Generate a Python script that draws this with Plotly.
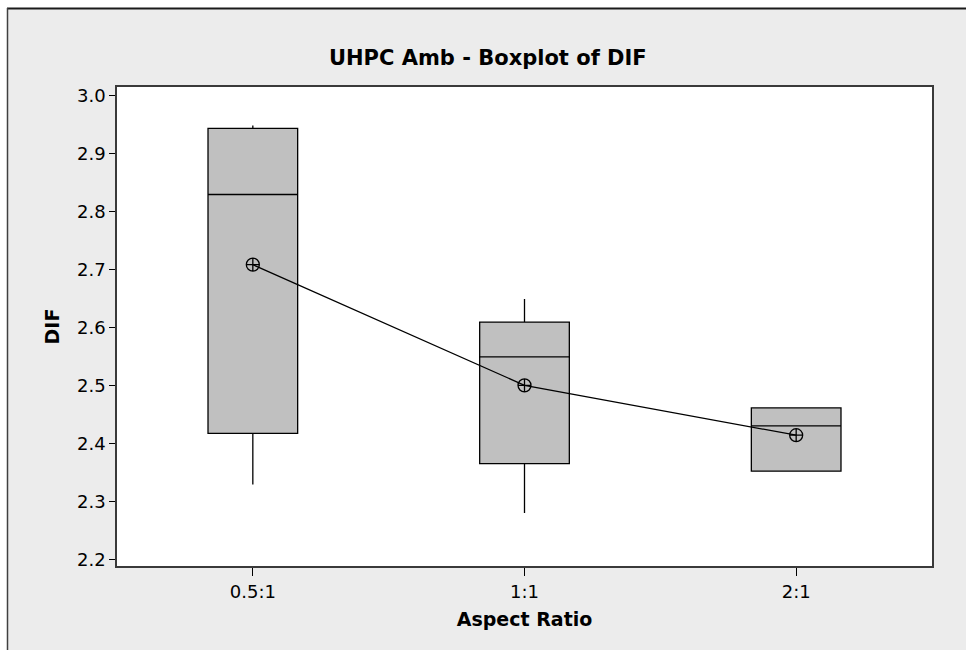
import plotly.graph_objects as go

# Aspect ratio groups and their DIF summary statistics
categories = ["0.5:1", "1:1", "2:1"]
lower_whisker = [2.329, 2.280, 2.352]
q1_values = [2.417, 2.365, 2.352]
median_values = [2.829, 2.549, 2.430]
q3_values = [2.943, 2.609, 2.461]
upper_whisker = [2.948, 2.649, 2.462]
mean_values = [2.708, 2.500, 2.414]
y_ticks = [2.2, 2.3, 2.4, 2.5, 2.6, 2.7, 2.8, 2.9, 3.0]

W, H = 966, 650
L, R, T, B = 117, 34, 87, 84
FONT = "DejaVu Sans"


def px_x(px):
    return (px - L) / (W - L - R)


def px_y(py):
    return (H - B - py) / (H - T - B)


fig = go.Figure()

fig.add_trace(go.Box(
    x=categories,
    q1=q1_values,
    median=median_values,
    q3=q3_values,
    lowerfence=lower_whisker,
    upperfence=upper_whisker,
    boxpoints=False,
    fillcolor="#C0C0C0",
    line=dict(color="#000000", width=1.3),
    width=0.33,
    whiskerwidth=0,
    showlegend=False,
    hoverinfo="skip",
))

# Connected group means
fig.add_trace(go.Scatter(
    x=categories,
    y=mean_values,
    mode="lines+markers",
    line=dict(color="#000000", width=1.3),
    marker=dict(symbol="circle-cross-open", size=13,
                color="#000000", line=dict(width=1.3, color="#000000")),
    showlegend=False,
    hoverinfo="skip",
))

# White margin strips and the dark edge of the gray panel
shapes = [
    dict(type="rect", xref="paper", yref="paper",
         x0=px_x(-5), x1=px_x(7), y0=px_y(-5), y1=px_y(H + 5),
         fillcolor="#FFFFFF", line=dict(width=0), layer="above"),
    dict(type="rect", xref="paper", yref="paper",
         x0=px_x(-5), x1=px_x(W + 5), y0=px_y(-5), y1=px_y(8),
         fillcolor="#FFFFFF", line=dict(width=0), layer="above"),
    dict(type="line", xref="paper", yref="paper",
         x0=px_x(7), x1=px_x(W + 5), y0=px_y(8.5), y1=px_y(8.5),
         line=dict(color="#1a1a1a", width=2), layer="above"),
    dict(type="line", xref="paper", yref="paper",
         x0=px_x(7.5), x1=px_x(7.5), y0=px_y(8), y1=px_y(H + 5),
         line=dict(color="#404040", width=1.5), layer="above"),
]

fig.update_layout(
    width=W,
    height=H,
    margin=dict(l=L, r=R, t=T, b=B, pad=0),
    paper_bgcolor="#ECECEC",
    plot_bgcolor="#FFFFFF",
    font=dict(family=FONT, color="#000000", size=18),
    title=dict(
        text="<b>UHPC Amb - Boxplot of DIF</b>",
        font=dict(family=FONT, size=21, color="#000000"),
        x=0.505, xref="container", xanchor="center",
        y=1 - 58 / H, yref="container", yanchor="middle",
    ),
    shapes=shapes,
    xaxis=dict(
        type="category",
        range=[-0.5, 2.5],
        showgrid=False,
        zeroline=False,
        showline=True,
        linecolor="#3a3a3a",
        linewidth=2,
        mirror=True,
        ticks="outside",
        ticklen=8,
        tickcolor="#000000",
        tickfont=dict(family=FONT, size=18),
        title=dict(text="<b>Aspect Ratio</b>", font=dict(family=FONT, size=19), standoff=12),
    ),
    yaxis=dict(
        range=[2.1885, 3.0143],
        tickvals=y_ticks,
        ticktext=[f"{v:.1f}" for v in y_ticks],
        showgrid=False,
        zeroline=False,
        showline=True,
        linecolor="#3a3a3a",
        linewidth=1.5,
        mirror=True,
        ticks="outside",
        ticklen=6,
        tickcolor="#000000",
        tickfont=dict(family=FONT, size=18),
        title=dict(text="<b>DIF</b>", font=dict(family=FONT, size=19), standoff=12),
    ),
)

fig.write_html("out.html")
